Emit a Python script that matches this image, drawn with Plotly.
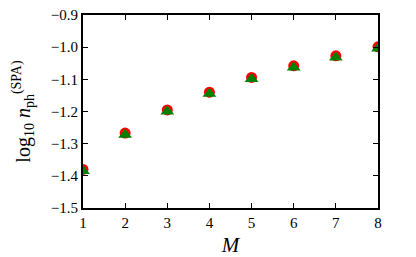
import plotly.graph_objects as go

M = [1, 2, 3, 4, 5, 6, 7, 8]
circle_vals = [-1.380, -1.267, -1.195, -1.140, -1.094, -1.058, -1.027, -0.999]
triangle_vals = [-1.385, -1.272, -1.200, -1.145, -1.099, -1.063, -1.032, -1.004]
yticks = [-1.5, -1.4, -1.3, -1.2, -1.1, -1.0, -0.9]
xticks = [1, 2, 3, 4, 5, 6, 7, 8]

font = "Liberation Serif"

fig = go.Figure()
fig.add_trace(go.Scatter(x=M, y=circle_vals, mode="markers",
                         marker=dict(symbol="circle", size=11, color="#ff0000", line=dict(width=0))))
fig.add_trace(go.Scatter(x=M, y=triangle_vals, mode="markers",
                         marker=dict(symbol="triangle-up", size=12, color="#008000", line=dict(width=0))))

axis_common = dict(showline=True, linecolor="black", linewidth=2, mirror="ticks",
                   ticks="inside", ticklen=5, tickwidth=1.2, tickcolor="black",
                   showgrid=False, zeroline=False, automargin=False,
                   tickfont=dict(family=font, size=15, color="black"))

fig.update_layout(
    width=416, height=257,
    margin=dict(l=83, r=38, t=15, b=49),
    plot_bgcolor="white", paper_bgcolor="white",
    showlegend=False,
    xaxis=dict(range=[1, 8], tickvals=xticks, ticktext=[str(v) for v in xticks],
               title=dict(text="<i>M</i>", font=dict(family=font, size=21, color="black")),
               **axis_common),
    yaxis=dict(range=[-1.5, -0.9], tickvals=yticks, tickformat=".1f",
               title=dict(text="log<sub>10</sub> <i>n</i><sub>ph</sub><sup>(SPA)</sup>",
                          font=dict(family=font, size=20, color="black")),
               **axis_common),
)

fig.write_html("out.html", config={"displayModeBar": False},
               post_script="document.body.style.margin='0';document.body.style.overflow='hidden';")
